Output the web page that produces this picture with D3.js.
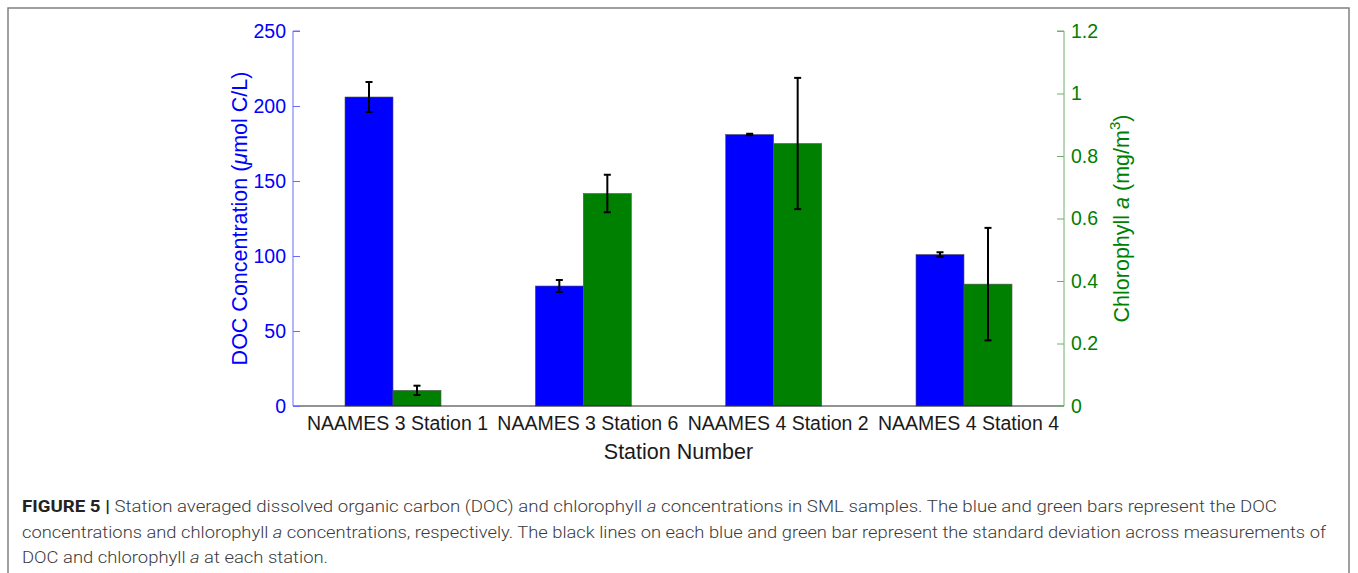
<!DOCTYPE html>
<html>
<head>
<meta charset="utf-8">
<script src="https://cdn.jsdelivr.net/npm/d3@7"></script>
<style>
  html, body { margin: 0; padding: 0; background: #fff; }
  svg { display: block; font-family: "Liberation Sans", Arial, sans-serif; }
</style>
</head>
<body>
<svg id="chart" width="1358" height="573"></svg>
<script>
// Station-averaged DOC (left axis) and chlorophyll a (right axis)
const stations = ["NAAMES 3 Station 1", "NAAMES 3 Station 6", "NAAMES 4 Station 2", "NAAMES 4 Station 4"];
const docMean = [206, 80, 181, 101];
const docSD = [10, 4, 0.5, 1.5];
const chlMean = [0.05, 0.68, 0.84, 0.39];
const chlSD = [0.015, 0.06, 0.21, 0.18];
const docTicks = [0, 50, 100, 150, 200, 250];
const chlTicks = [0, 0.2, 0.4, 0.6, 0.8, 1, 1.2];

const svg = d3.select("#chart");

// figure frame
svg.append("rect")
  .attr("x", 8).attr("y", 8).attr("width", 1341).attr("height", 580)
  .attr("fill", "none").attr("stroke", "#808080").attr("stroke-width", 1.5);

const plot = { left: 293, right: 1064, top: 31, bottom: 406 };

const x = d3.scalePoint().domain(stations).range([393, 964]);
const barW = 48;
const yDoc = d3.scaleLinear().domain([0, 250]).range([plot.bottom, plot.top]);
const yChl = d3.scaleLinear().domain([0, 1.2]).range([plot.bottom, plot.top]);

const blue = "#0000ff", green = "#008000";
const tickFont = "19.5px";

// bars
const g = svg.append("g");
g.selectAll("rect.doc").data(stations).join("rect")
  .attr("class", "doc")
  .attr("x", d => x(d) - barW)
  .attr("y", (d, i) => yDoc(docMean[i]))
  .attr("width", barW)
  .attr("height", (d, i) => yDoc(0) - yDoc(docMean[i]))
  .attr("fill", blue).attr("stroke", "#555").attr("stroke-width", 0.6);

g.selectAll("rect.chl").data(stations).join("rect")
  .attr("class", "chl")
  .attr("x", d => x(d))
  .attr("y", (d, i) => yChl(chlMean[i]))
  .attr("width", barW)
  .attr("height", (d, i) => yChl(0) - yChl(chlMean[i]))
  .attr("fill", green).attr("stroke", "#555").attr("stroke-width", 0.6);

// error bars
function errorBars(cls, cx, mean, sd, scale) {
  const eg = g.selectAll("g." + cls).data(stations).join("g").attr("class", cls);
  eg.append("line")
    .attr("x1", cx).attr("x2", cx)
    .attr("y1", (d, i) => scale(mean[i] + sd[i]))
    .attr("y2", (d, i) => scale(mean[i] - sd[i]))
    .attr("stroke", "#000").attr("stroke-width", 2);
  [1, -1].forEach(s => {
    eg.append("line")
      .attr("x1", d => cx(d) - 3.5).attr("x2", d => cx(d) + 3.5)
      .attr("y1", (d, i) => scale(mean[i] + s * sd[i]))
      .attr("y2", (d, i) => scale(mean[i] + s * sd[i]))
      .attr("stroke", "#000").attr("stroke-width", 2);
  });
}
errorBars("docErr", d => x(d) - barW / 2, docMean, docSD, yDoc);
errorBars("chlErr", d => x(d) + barW / 2, chlMean, chlSD, yChl);

// bottom axis line and category labels
svg.append("line")
  .attr("x1", plot.left).attr("x2", plot.right)
  .attr("y1", plot.bottom).attr("y2", plot.bottom)
  .attr("stroke", "#262626").attr("stroke-width", 1);

const xAxis = svg.append("g").attr("transform", `translate(0,${plot.bottom})`)
  .call(d3.axisBottom(x).tickSize(0).tickPadding(10));
xAxis.select(".domain").remove();
xAxis.selectAll("text")
  .attr("dx", 4)
  .style("font-size", tickFont).style("font-family", "Liberation Sans, Arial, sans-serif")
  .attr("fill", "#1a1a1a");

// left axis (DOC)
const yL = svg.append("g").attr("transform", `translate(${plot.left},0)`)
  .call(d3.axisLeft(yDoc).tickValues(docTicks).tickSize(-7).tickPadding(7).tickFormat(d3.format("d")));
yL.select(".domain").attr("stroke", "#6a6aff").attr("d", `M7,${plot.top}H0V${plot.bottom}`);
yL.selectAll(".tick line").attr("stroke", "#6a6aff");
yL.selectAll(".tick text").attr("fill", blue)
  .style("font-size", tickFont).style("font-family", "Liberation Sans, Arial, sans-serif");

// right axis (chlorophyll)
const yR = svg.append("g").attr("transform", `translate(${plot.right},0)`)
  .call(d3.axisRight(yChl).tickValues(chlTicks).tickSize(-7).tickPadding(7).tickFormat(d => String(d)));
yR.select(".domain").attr("stroke", "#6fb06f").attr("d", `M-7,${plot.top}H0V${plot.bottom}`);
yR.selectAll(".tick line").attr("stroke", "#6fb06f");
yR.selectAll(".tick text").attr("fill", green)
  .style("font-size", tickFont).style("font-family", "Liberation Sans, Arial, sans-serif");

// axis titles
const midY = (plot.top + plot.bottom) / 2;
const lt = svg.append("text")
  .attr("transform", `translate(247,${midY}) rotate(-90)`)
  .attr("text-anchor", "middle").attr("fill", blue)
  .style("font-size", "21.5px");
lt.append("tspan").text("DOC Concentration (");
lt.append("tspan").attr("font-style", "italic").text("μ");
lt.append("tspan").text("mol C/L)");

const rt = svg.append("text")
  .attr("transform", `translate(1129,${midY}) rotate(-90)`)
  .attr("text-anchor", "middle").attr("fill", green)
  .style("font-size", "21.5px");
rt.append("tspan").text("Chlorophyll ");
rt.append("tspan").attr("font-style", "italic").text("a");
rt.append("tspan").text(" (mg/m");
rt.append("tspan").attr("dy", -9).style("font-size", "15px").text("3");
rt.append("tspan").attr("dy", 9).text(")");

svg.append("text")
  .attr("x", (plot.left + plot.right) / 2).attr("y", 459)
  .attr("text-anchor", "middle").attr("fill", "#1a1a1a")
  .style("font-size", "21.5px").text("Station Number");

// caption
const capLines = [
  { width: 1255, parts: [["FIGURE 5 |", "bold"], [" Station averaged dissolved organic carbon (DOC) and chlorophyll ", ""], ["a", "italic"], [" concentrations in SML samples. The blue and green bars represent the DOC", ""]] },
  { width: 1304, parts: [["concentrations and chlorophyll ", ""], ["a", "italic"], [" concentrations, respectively. The black lines on each blue and green bar represent the standard deviation across measurements of", ""]] },
  { width: 306, parts: [["DOC and chlorophyll ", ""], ["a", "italic"], [" at each station.", ""]] }
];
capLines.forEach((ln, i) => {
  const t = svg.append("text")
    .attr("x", 22).attr("y", 512 + i * 25.5)
    .attr("fill", "#3a3a3a").style("font-size", "16.5px").attr("font-weight", 300)
    .style("font-family", "Roboto, 'Liberation Sans', Arial, sans-serif")
    .attr("textLength", ln.width).attr("lengthAdjust", "spacingAndGlyphs");
  ln.parts.forEach(([txt, st]) => {
    const s = t.append("tspan").text(txt);
    if (st === "bold") s.attr("font-weight", "bold").attr("fill", "#222");
    if (st === "italic") s.attr("font-style", "italic");
  });
});
</script>
</body>
</html>
